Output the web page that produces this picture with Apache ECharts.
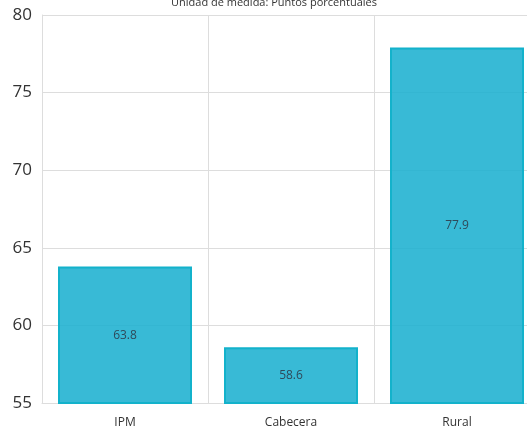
<!DOCTYPE html>
<html><head><meta charset="utf-8">
<script src="https://cdn.jsdelivr.net/npm/echarts@6/dist/echarts.min.js"></script>
<style>html,body{margin:0;padding:0;background:#fff}#c{width:527px;height:426px}</style>
</head><body><div id="c"></div>
<script>
const categories = ["IPM", "Cabecera", "Rural"];
const values = [63.8, 58.6, 77.9];
const yTicks = [55, 60, 65, 70, 75, 80];
const titleText = "Unidad de medida: Puntos porcentuales";

const chart = echarts.init(document.getElementById('c'), null, {renderer: 'canvas'});
chart.setOption({
  animation: false,
  textStyle: {fontFamily: "'Open Sans', 'Noto Sans', sans-serif"},
  title: {
    text: titleText, left: 269, top: -8, textAlign: 'center',
    textStyle: {fontSize: 11, fontWeight: 'normal', color: '#333'}
  },
  grid: {left: 42, top: 15, width: 498, height: 388, containLabel: false, outerBoundsMode: 'none'},
  xAxis: {
    type: 'category', data: categories,
    axisLine: {show: true, lineStyle: {color: '#dddddd'}},
    axisTick: {show: false},
    axisLabel: {color: '#333', fontSize: 12, margin: 14},
    splitLine: {show: true, lineStyle: {color: '#dddddd'}}
  },
  yAxis: {
    type: 'value', min: yTicks[0], max: yTicks[yTicks.length - 1], interval: 5,
    axisLine: {show: true, lineStyle: {color: '#dddddd'}},
    axisTick: {show: false},
    axisLabel: {color: '#333', fontSize: 17, margin: 10},
    splitLine: {show: true, lineStyle: {color: '#dddddd'}}
  },
  series: [{
    type: 'bar', data: values, barWidth: 134,
    itemStyle: {color: 'rgba(28,176,208,0.88)', borderColor: '#13b2cb', borderWidth: 2},
    label: {show: true, position: 'inside', color: '#2f4a5a', fontSize: 12}
  }]
});
</script></body></html>
